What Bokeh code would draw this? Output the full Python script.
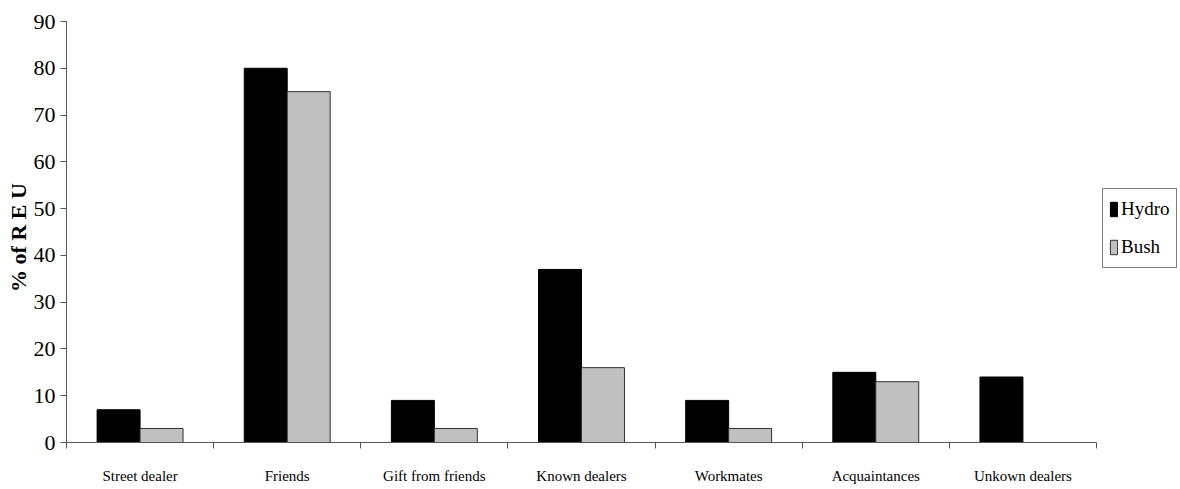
from bokeh.plotting import figure
from bokeh.models import ColumnDataSource, FixedTicker, Range1d, Legend, LegendItem
from bokeh.embed import file_html
from bokeh.resources import INLINE

categories = ["Street dealer", "Friends", "Gift from friends", "Known dealers",
              "Workmates", "Acquaintances", "Unkown dealers"]
hydro = [7, 80, 9, 37, 9, 15, 14]
bush = [3, 75, 3, 16, 3, 13, 0]
y_ticks = [0, 10, 20, 30, 40, 50, 60, 70, 80, 90]

FONT = "Liberation Serif"
BW = 0.292
AXIS_COLOR = "#555555"

n = len(categories)
centers = [i + 0.5 for i in range(n)]
src = ColumnDataSource(dict(
    xh=[c - BW / 2 for c in centers],
    xb=[c + BW / 2 for c in centers],
    hydro=hydro, bush=bush))

AXIS_PX = 1030      # length of the drawn x axis
FRAME_PX = 1112     # frame extends right to hold the legend

p = figure(width=1178, height=488, output_backend="svg", toolbar_location=None,
           x_range=Range1d(0, n * FRAME_PX / AXIS_PX), y_range=Range1d(0, 90),
           frame_width=FRAME_PX, frame_height=421,
           min_border_left=66, min_border_right=0, min_border_top=21,
           min_border_bottom=46)
p.outline_line_color = None
p.grid.grid_line_color = None
p.background_fill_color = "white"

rh = p.vbar(x="xh", top="hydro", width=BW, bottom=0, source=src,
            fill_color="black", line_color="black", line_width=1)
rb = p.vbar(x="xb", top="bush", width=BW, bottom=0, source=src,
            fill_color="#c0c0c0", line_color="#303030", line_width=1)

# x axis: labels at centres, ticks at category boundaries
xa = p.xaxis[0]
xa.bounds = (0, n)
xa.ticker = FixedTicker(ticks=centers, minor_ticks=[float(i) for i in range(n + 1)])
xa.major_label_overrides = {c: name for c, name in zip(centers, categories)}
xa.major_tick_out = 0
xa.major_tick_in = 0
xa.minor_tick_out = 6
xa.minor_tick_in = 0
xa.minor_tick_line_color = AXIS_COLOR
xa.axis_line_color = AXIS_COLOR
xa.major_label_text_font = FONT
xa.major_label_text_font_size = "15px"
xa.major_label_text_color = "black"
xa.major_label_standoff = 19

ya = p.yaxis[0]
ya.ticker = FixedTicker(ticks=y_ticks)
ya.minor_tick_line_color = None
ya.major_tick_out = 6
ya.major_tick_in = 0
ya.major_tick_line_color = AXIS_COLOR
ya.axis_line_color = AXIS_COLOR
ya.major_label_text_font = FONT
ya.major_label_text_font_size = "22px"
ya.major_label_text_color = "black"
ya.major_label_standoff = 5
ya.axis_label = "%   of R E U"
ya.axis_label_text_font = FONT
ya.axis_label_text_font_size = "22px"
ya.axis_label_text_font_style = "bold"
ya.axis_label_text_color = "black"
ya.axis_label_standoff = 0

legend = Legend(items=[LegendItem(label="Hydro", renderers=[rh]),
                       LegendItem(label="Bush", renderers=[rb])],
                location=(1036, 174))
legend.label_text_font = FONT
legend.label_text_font_size = "19px"
legend.label_text_color = "black"
legend.border_line_color = "black"
legend.border_line_width = 1
legend.glyph_width = 9
legend.glyph_height = 18
legend.label_standoff = 3
legend.padding = 6
legend.spacing = 10
legend.margin = 0
legend.label_height = 28
p.add_layout(legend, "center")

open("out.html", "w").write(file_html(p, INLINE))
